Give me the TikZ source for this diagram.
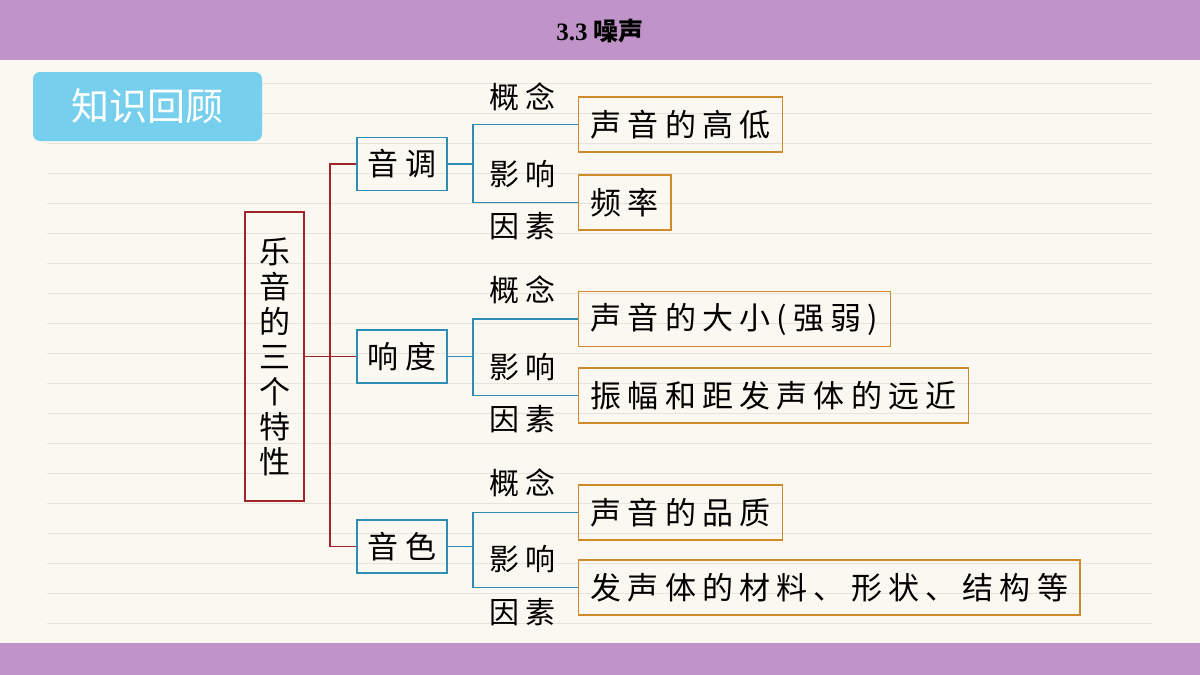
\documentclass[tikz,border=0pt]{standalone}
\usepackage{fontspec}
\newfontfamily\cjk{Noto Sans CJK SC}
\newfontfamily\cjks[LetterSpace=20]{Noto Sans CJK SC}
\setmainfont{Liberation Serif}
\definecolor{bar}{HTML}{C094C8}
\definecolor{bg}{HTML}{FBF8F1}
\definecolor{rl}{HTML}{E6E3DC}
\definecolor{badge}{HTML}{77CFEE}
\definecolor{rd}{HTML}{A3232A}
\definecolor{bl}{HTML}{2E8DB2}
\definecolor{og}{HTML}{D08A2A}
\tikzset{
 txt/.style={font=\cjks\fontsize{30}{30}\selectfont, inner sep=0pt},
 obox/.style={draw=og, line width=1.3pt, anchor=west, minimum height=55pt, inner xsep=12pt, font=\cjks\fontsize{31}{30}\selectfont},
 bbox/.style={draw=bl, line width=1.3pt, minimum width=90pt, minimum height=53pt, font=\cjks\fontsize{31}{30}\selectfont, inner sep=0pt},
 rline/.style={draw=rd, line width=1.3pt},
 bline/.style={draw=bl, line width=1.3pt},
}
\begin{document}
\begin{tikzpicture}[x=1pt,y=-1pt]
\useasboundingbox (0,0) rectangle (1200,675);
\fill[bg] (0,0) rectangle (1200,675);
\foreach \y in {83,113,143,173,203,233,263,293,323,353,383,413,443,473,503,533,563,593,623} \draw[rl, line width=0.8pt] (47,\y) -- (1152,\y);
\fill[bar] (0,0) rectangle (1200,60);
\fill[bar] (0,643) rectangle (1200,675);
\node[font=\bfseries\fontsize{25}{26}\selectfont] (title) at (600,31) {3.3 {\cjk 噪声}};
\node[fill=badge, rounded corners=7pt, minimum width=229pt, minimum height=69pt, text=white, font=\cjk\fontsize{38}{38}\selectfont] (badge) at (147.5,106.5) {知识回顾};
\node[draw=rd, line width=1.3pt, minimum width=59pt, minimum height=289pt, font=\cjk\fontsize{31}{35}\selectfont, align=center] (root) at (274.5,356.5) {乐\\音\\的\\三\\个\\特\\性};
\node[bbox] (b1) at (402,164) {音调};
\node[bbox] (b2) at (402,356.5) {响度};
\node[bbox] (b3) at (402,546.5) {音色};
\coordinate (rj) at (330,356.5);
\draw[rline] (root.east) -- (rj);
\draw[rline] (b1.west) -| (rj) |- (b3.west);
\draw[rline] (rj) -- (b2.west);
\node[obox] (o1) at (578,124.5) {声音的高低};
\node[obox] (o2) at (578,202.5) {频率};
\node[obox] (o3) at (578,319) {声音的大小(强弱)};
\node[obox] (o4) at (578,395.5) {振幅和距发声体的远近};
\node[obox] (o5) at (578,512.5) {声音的品质};
\node[obox] (o6) at (578,587.5) {发声体的材料、形状、结构等};
\coordinate (j1) at (473,164);
\coordinate (j2) at (473,356.5);
\coordinate (j3) at (473,546.5);
\draw[bline] (b1.east) -- (j1); \draw[bline] (o1.west) -| (j1) |- (o2.west);
\draw[bline] (b2.east) -- (j2); \draw[bline] (o3.west) -| (j2) |- (o4.west);
\draw[bline] (b3.east) -- (j3); \draw[bline] (o5.west) -| (j3) |- (o6.west);
\node[txt] (l1) at (522,97) {概念};
\node[txt] (l2) at (522,174) {影响};
\node[txt] (l3) at (522,226) {因素};
\node[txt] (l4) at (522,290) {概念};
\node[txt] (l5) at (522,367) {影响};
\node[txt] (l6) at (522,419) {因素};
\node[txt] (l7) at (522,483) {概念};
\node[txt] (l8) at (522,559) {影响};
\node[txt] (l9) at (522,612) {因素};
\end{tikzpicture}
\end{document}
